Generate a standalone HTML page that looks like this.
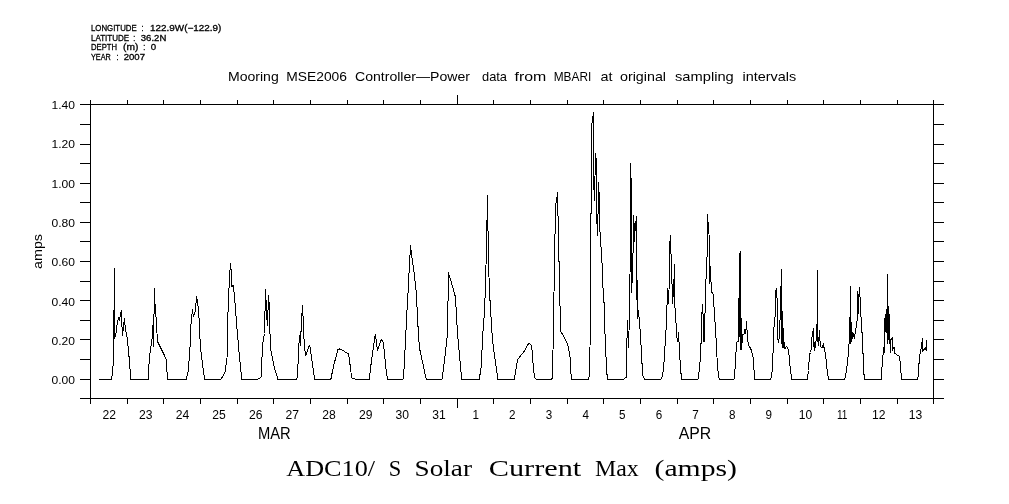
<!DOCTYPE html>
<html><head><meta charset="utf-8"><title>ADC10/ S Solar Current Max (amps)</title>
<style>html,body{margin:0;padding:0;background:#fff;}body{width:1009px;height:504px;overflow:hidden;font-family:"Liberation Sans",sans-serif;}svg{display:block}.txt{filter:grayscale(1);fill:#000}.s{font-family:"Liberation Sans",sans-serif}.r{font-family:"Liberation Serif",serif}</style>
</head><body>
<svg width="1009" height="504" viewBox="0 0 1009 504">
<rect width="1009" height="504" fill="#fff"/>
<g stroke="#000" stroke-width="1" fill="none" shape-rendering="crispEdges">
<path d="M80.0 104.5H944.0M80.0 398.5H944.0M90.5 104.0V399.0M933.5 104.0V399.0"/>
<path d="M80.0 379.5H90.5M933.5 379.5H944.0M80.0 359.5H90.5M933.5 359.5H944.0M80.0 339.5H90.5M933.5 339.5H944.0M80.0 320.5H90.5M933.5 320.5H944.0M80.0 300.5H90.5M933.5 300.5H944.0M80.0 281.5H90.5M933.5 281.5H944.0M80.0 261.5H90.5M933.5 261.5H944.0M80.0 241.5H90.5M933.5 241.5H944.0M80.0 222.5H90.5M933.5 222.5H944.0M80.0 202.5H90.5M933.5 202.5H944.0M80.0 183.5H90.5M933.5 183.5H944.0M80.0 163.5H90.5M933.5 163.5H944.0M80.0 144.5H90.5M933.5 144.5H944.0M80.0 124.5H90.5M933.5 124.5H944.0M80.0 104.5H90.5M933.5 104.5H944.0"/>
<path d="M90.5 100.0V104.5M90.5 398.5V404.0M127.5 100.0V104.5M127.5 398.5V404.0M163.5 100.0V104.5M163.5 398.5V404.0M200.5 100.0V104.5M200.5 398.5V404.0M237.5 100.0V104.5M237.5 398.5V404.0M273.5 100.0V104.5M273.5 398.5V404.0M310.5 100.0V104.5M310.5 398.5V404.0M347.5 100.0V104.5M347.5 398.5V404.0M383.5 100.0V104.5M383.5 398.5V404.0M420.5 100.0V104.5M420.5 398.5V404.0M457.5 95.0V104.5M457.5 398.5V408.0M493.5 100.0V104.5M493.5 398.5V404.0M530.5 100.0V104.5M530.5 398.5V404.0M567.5 100.0V104.5M567.5 398.5V404.0M603.5 100.0V104.5M603.5 398.5V404.0M640.5 100.0V104.5M640.5 398.5V404.0M677.5 100.0V104.5M677.5 398.5V404.0M713.5 100.0V104.5M713.5 398.5V404.0M750.5 100.0V104.5M750.5 398.5V404.0M787.5 100.0V104.5M787.5 398.5V404.0M823.5 100.0V104.5M823.5 398.5V404.0M860.5 100.0V104.5M860.5 398.5V404.0M897.5 100.0V104.5M897.5 398.5V404.0M933.5 100.0V104.5M933.5 398.5V404.0"/>
</g>
<g class="txt">
<text class="s" y="30.8" font-size="8.8" stroke="#000" stroke-width="0.3"><tspan x="91" textLength="45.7" lengthAdjust="spacingAndGlyphs">LONGITUDE</tspan> <tspan x="141.5" textLength="2.0" lengthAdjust="spacingAndGlyphs">:</tspan> <tspan x="150" textLength="71.3" lengthAdjust="spacingAndGlyphs">122.9W(&#8722;122.9)</tspan></text>
<text class="s" y="40.8" font-size="8.8" stroke="#000" stroke-width="0.3"><tspan x="91" textLength="38.2" lengthAdjust="spacingAndGlyphs">LATITUDE</tspan> <tspan x="133.2" textLength="2.0" lengthAdjust="spacingAndGlyphs">:</tspan> <tspan x="140.8" textLength="25.5" lengthAdjust="spacingAndGlyphs">36.2N</tspan></text>
<text class="s" y="50.2" font-size="8.8" stroke="#000" stroke-width="0.3"><tspan x="91" textLength="26" lengthAdjust="spacingAndGlyphs">DEPTH</tspan> <tspan x="123" textLength="15.3" lengthAdjust="spacingAndGlyphs">(m)</tspan> <tspan x="143.3" textLength="2.0" lengthAdjust="spacingAndGlyphs">:</tspan> <tspan x="150.8" textLength="5.4" lengthAdjust="spacingAndGlyphs">0</tspan></text>
<text class="s" y="60" font-size="8.8" stroke="#000" stroke-width="0.3"><tspan x="91" textLength="19.8" lengthAdjust="spacingAndGlyphs">YEAR</tspan> <tspan x="116.5" textLength="2.0" lengthAdjust="spacingAndGlyphs">:</tspan> <tspan x="123.7" textLength="21.3" lengthAdjust="spacingAndGlyphs">2007</tspan></text>
<text class="s" y="81" font-size="13.3"><tspan x="228" textLength="50.75" lengthAdjust="spacingAndGlyphs">Mooring</tspan> <tspan x="286.25" textLength="60.75" lengthAdjust="spacingAndGlyphs">MSE2006</tspan> <tspan x="355" textLength="115" lengthAdjust="spacingAndGlyphs">Controller&#8212;Power</tspan> <tspan x="482" textLength="25" lengthAdjust="spacingAndGlyphs">data</tspan> <tspan x="514.5" textLength="31.75" lengthAdjust="spacingAndGlyphs">from</tspan> <tspan x="553.75" textLength="37.5" lengthAdjust="spacingAndGlyphs">MBARI</tspan> <tspan x="600.5" textLength="12.0" lengthAdjust="spacingAndGlyphs">at</tspan> <tspan x="620" textLength="46" lengthAdjust="spacingAndGlyphs">original</tspan> <tspan x="675" textLength="58.75" lengthAdjust="spacingAndGlyphs">sampling</tspan> <tspan x="742.5" textLength="53.75" lengthAdjust="spacingAndGlyphs">intervals</tspan></text>
<text class="s" y="109.1" font-size="11.8"><tspan x="51.5" textLength="23.5" lengthAdjust="spacingAndGlyphs">1.40</tspan></text>
<text class="s" y="148.4" font-size="11.8"><tspan x="51.5" textLength="23.5" lengthAdjust="spacingAndGlyphs">1.20</tspan></text>
<text class="s" y="187.7" font-size="11.8"><tspan x="51.5" textLength="23.5" lengthAdjust="spacingAndGlyphs">1.00</tspan></text>
<text class="s" y="227.0" font-size="11.8"><tspan x="51.5" textLength="23.5" lengthAdjust="spacingAndGlyphs">0.80</tspan></text>
<text class="s" y="266.2" font-size="11.8"><tspan x="51.5" textLength="23.5" lengthAdjust="spacingAndGlyphs">0.60</tspan></text>
<text class="s" y="305.5" font-size="11.8"><tspan x="51.5" textLength="23.5" lengthAdjust="spacingAndGlyphs">0.40</tspan></text>
<text class="s" y="344.8" font-size="11.8"><tspan x="51.5" textLength="23.5" lengthAdjust="spacingAndGlyphs">0.20</tspan></text>
<text class="s" y="384.1" font-size="11.8"><tspan x="51.5" textLength="23.5" lengthAdjust="spacingAndGlyphs">0.00</tspan></text>
<text class="s" y="419.3" font-size="13.2"><tspan x="102.4" textLength="13.5" lengthAdjust="spacingAndGlyphs">22</tspan> <tspan x="139.0" textLength="13.5" lengthAdjust="spacingAndGlyphs">23</tspan> <tspan x="175.7" textLength="13.5" lengthAdjust="spacingAndGlyphs">24</tspan> <tspan x="212.3" textLength="13.5" lengthAdjust="spacingAndGlyphs">25</tspan> <tspan x="249.0" textLength="13.5" lengthAdjust="spacingAndGlyphs">26</tspan> <tspan x="285.6" textLength="13.5" lengthAdjust="spacingAndGlyphs">27</tspan> <tspan x="322.3" textLength="13.5" lengthAdjust="spacingAndGlyphs">28</tspan> <tspan x="358.9" textLength="13.5" lengthAdjust="spacingAndGlyphs">29</tspan> <tspan x="395.6" textLength="13.5" lengthAdjust="spacingAndGlyphs">30</tspan> <tspan x="432.2" textLength="13.5" lengthAdjust="spacingAndGlyphs">31</tspan> <tspan x="472.4" textLength="6.5" lengthAdjust="spacingAndGlyphs">1</tspan> <tspan x="509.0" textLength="6.5" lengthAdjust="spacingAndGlyphs">2</tspan> <tspan x="545.7" textLength="6.5" lengthAdjust="spacingAndGlyphs">3</tspan> <tspan x="582.4" textLength="6.5" lengthAdjust="spacingAndGlyphs">4</tspan> <tspan x="619.0" textLength="6.5" lengthAdjust="spacingAndGlyphs">5</tspan> <tspan x="655.7" textLength="6.5" lengthAdjust="spacingAndGlyphs">6</tspan> <tspan x="692.3" textLength="6.5" lengthAdjust="spacingAndGlyphs">7</tspan> <tspan x="729.0" textLength="6.5" lengthAdjust="spacingAndGlyphs">8</tspan> <tspan x="765.6" textLength="6.5" lengthAdjust="spacingAndGlyphs">9</tspan> <tspan x="798.8" textLength="13.5" lengthAdjust="spacingAndGlyphs">10</tspan> <tspan x="836.9" textLength="10.5" lengthAdjust="spacingAndGlyphs">11</tspan> <tspan x="872.1" textLength="13.5" lengthAdjust="spacingAndGlyphs">12</tspan> <tspan x="908.7" textLength="13.5" lengthAdjust="spacingAndGlyphs">13</tspan></text>
<text class="s" y="438.7" font-size="17.1"><tspan x="258" textLength="32.75" lengthAdjust="spacingAndGlyphs">MAR</tspan> <tspan x="678.75" textLength="32.5" lengthAdjust="spacingAndGlyphs">APR</tspan></text>
<text class="s" transform="translate(42 269) rotate(-90)" font-size="13.3" textLength="35" lengthAdjust="spacingAndGlyphs">amps</text>
<text class="r" y="475.5" font-size="23"><tspan x="286.25" textLength="88.75" lengthAdjust="spacingAndGlyphs">ADC10/</tspan> <tspan x="388.75" textLength="12.5" lengthAdjust="spacingAndGlyphs">S</tspan> <tspan x="414.5" textLength="57.5" lengthAdjust="spacingAndGlyphs">Solar</tspan> <tspan x="488.75" textLength="92.5" lengthAdjust="spacingAndGlyphs">Current</tspan> <tspan x="595" textLength="43.75" lengthAdjust="spacingAndGlyphs">Max</tspan> <tspan x="654.5" textLength="82.5" lengthAdjust="spacingAndGlyphs">(amps)</tspan></text>
</g>
<path d="M99.0 379.5 L111.5 379.5 L112.5 373.5 L113.0 366.5 L113.5 340.5 L113.6 310.5 L114.4 309.5 L114.5 268.5 L114.7 337.5 L115.5 336.5 L117.5 321.5 L118.4 318.5 L119.2 320.5 L121.3 310.5 L122.4 336.0 L124.4 318.5 L125.4 329.5 L126.8 335.5 L128.7 352.5 L130.8 379.5 L148.3 379.5 L149.3 357.5 L150.8 347.5 L152.3 336.5 L153.5 317.5 L153.4 346.5 L154.5 288.5 L155.4 315.5 L156.0 316.5 L157.5 341.5 L163.3 353.0 L166.3 359.5 L167.5 379.5 L186.3 379.5 L188.3 370.5 L190.0 347.2 L190.8 325.5 L192.0 314.5 L192.5 309.5 L193.3 317.2 L195.0 312.2 L196.7 296.5 L198.0 305.5 L199.2 320.5 L199.6 333.5 L200.8 350.5 L203.3 370.5 L204.7 379.5 L220.8 379.5 L225.0 372.2 L227.0 358.8 L227.7 317.2 L228.7 300.5 L229.2 281.5 L230.5 262.7 L231.3 273.2 L232.0 286.5 L233.3 285.5 L234.7 298.5 L236.7 325.5 L239.2 353.8 L241.7 379.5 L257.5 379.5 L261.2 377.0 L262.5 345.5 L264.5 333.5 L265.0 311.5 L265.6 289.5 L266.5 312.5 L267.4 325.5 L268.6 295.5 L269.6 310.5 L270.0 333.5 L270.9 350.5 L274.2 367.0 L278.0 379.5 L296.3 379.5 L297.5 377.2 L298.7 347.2 L299.7 335.5 L300.3 346.3 L301.7 317.2 L302.7 305.5 L303.3 325.5 L304.2 342.2 L305.5 356.3 L309.7 344.7 L311.7 358.8 L314.7 379.5 L330.8 379.5 L333.3 367.2 L337.8 349.7 L340.0 348.8 L348.3 353.8 L349.2 358.0 L351.7 378.0 L356.7 379.5 L369.2 379.5 L371.7 358.8 L375.3 333.9 L377.5 350.5 L381.3 339.7 L383.3 342.2 L385.8 367.2 L387.5 379.5 L403.0 379.5 L404.2 367.2 L405.8 333.8 L407.0 310.5 L408.0 293.5 L409.0 273.5 L410.0 255.5 L410.5 245.5 L411.7 255.5 L414.2 273.8 L416.3 292.5 L417.5 317.2 L418.7 338.8 L420.0 350.5 L426.3 379.5 L442.0 379.5 L443.7 367.2 L447.5 333.8 L448.0 302.5 L448.4 272.5 L454.2 292.2 L455.5 297.5 L457.5 333.8 L461.7 379.5 L479.2 379.5 L481.2 367.2 L482.8 333.8 L484.5 312.2 L485.0 298.5 L486.0 265.5 L487.0 220.5 L487.5 195.5 L488.0 230.5 L489.0 277.2 L490.0 300.5 L490.5 303.0 L491.3 325.5 L493.3 347.2 L498.0 379.5 L514.2 379.5 L515.8 370.5 L517.5 359.7 L524.2 351.3 L527.5 344.7 L529.2 343.5 L531.7 345.5 L533.3 367.2 L534.7 378.0 L536.7 379.5 L550.8 379.5 L552.5 378.0 L553.0 350.5 L554.0 292.5 L555.0 234.5 L556.0 203.0 L557.0 197.2 L557.5 192.5 L558.0 215.5 L558.9 261.3 L559.5 262.0 L560.0 305.5 L560.4 330.5 L566.3 341.3 L568.3 347.2 L570.3 358.8 L571.3 379.5 L588.0 379.5 L589.2 376.5 L590.0 348.5 L591.0 214.0 L592.0 123.5 L593.0 116.5 L593.5 112.5 L594.0 189.5 L594.5 200.5 L595.0 176.5 L595.5 153.5 L596.0 156.5 L597.0 223.5 L597.3 235.5 L598.0 214.5 L598.5 182.5 L599.0 191.1 L600.0 231.5 L601.0 247.1 L602.0 262.5 L603.0 287.5 L604.0 302.5 L604.7 303.5 L605.0 333.5 L606.7 372.5 L607.8 379.5 L623.3 379.5 L626.2 377.2 L627.0 338.5 L627.5 320.5 L628.0 335.5 L628.5 347.5 L629.0 331.5 L630.0 277.5 L630.5 163.5 L631.0 175.5 L631.7 292.5 L633.0 254.0 L633.5 215.5 L634.0 222.5 L634.5 241.5 L635.0 231.5 L636.0 221.5 L636.3 216.5 L636.8 299.5 L637.3 280.5 L637.9 318.5 L638.5 310.0 L639.2 319.5 L640.0 328.5 L640.5 335.5 L641.7 358.8 L642.8 375.5 L644.7 379.5 L660.8 379.5 L662.5 376.3 L663.7 367.2 L665.8 333.8 L666.5 320.5 L667.0 305.5 L667.4 288.5 L668.1 303.5 L669.0 290.5 L670.0 241.5 L670.5 235.5 L671.0 254.0 L672.0 283.5 L672.5 303.5 L673.0 297.5 L674.0 280.0 L674.4 264.5 L675.0 307.5 L676.0 322.5 L677.0 337.5 L677.5 342.2 L678.7 332.2 L679.2 347.2 L680.8 372.2 L682.0 379.5 L698.0 379.5 L699.7 367.2 L700.8 350.5 L701.4 330.5 L702.0 312.5 L702.7 304.0 L703.9 341.5 L704.1 341.5 L705.0 313.5 L706.0 279.0 L707.0 259.0 L707.4 214.5 L708.0 221.5 L709.0 233.5 L709.6 283.5 L710.3 266.5 L711.0 281.5 L712.0 292.5 L713.0 293.5 L714.0 306.5 L715.8 333.8 L717.5 367.2 L719.2 379.5 L734.0 379.5 L735.2 367.5 L736.5 342.5 L737.7 341.5 L738.4 341.5 L738.9 298.5 L739.2 336.5 L739.6 253.5 L740.3 252.5 L740.6 349.5 L741.3 318.5 L741.7 349.5 L742.5 334.5 L744.0 334.5 L745.0 329.5 L745.7 333.5 L746.5 321.5 L747.5 337.5 L748.5 345.5 L750.0 347.5 L751.5 350.5 L753.0 356.5 L754.7 379.5 L770.7 379.5 L772.0 372.5 L773.0 353.5 L774.0 327.5 L775.0 317.5 L775.9 290.5 L776.4 289.5 L777.0 297.5 L777.9 339.5 L778.5 342.5 L779.0 339.5 L780.0 320.5 L781.0 286.5 L781.5 269.5 L781.9 343.5 L782.4 311.5 L782.9 347.5 L783.4 328.5 L783.9 347.5 L784.5 342.5 L785.0 348.5 L786.5 346.5 L787.5 347.5 L788.0 348.5 L789.0 354.5 L790.2 367.5 L791.8 379.5 L807.3 379.5 L808.5 370.5 L809.5 354.5 L810.5 352.5 L811.0 350.5 L812.0 337.5 L813.0 331.0 L813.4 328.5 L814.0 346.5 L814.4 350.5 L815.0 342.5 L815.6 347.5 L816.0 341.5 L817.0 326.5 L817.3 270.5 L817.9 341.5 L818.5 345.5 L819.4 330.5 L820.0 340.5 L820.5 346.5 L822.0 347.5 L823.4 343.5 L824.0 347.5 L825.0 351.5 L826.0 358.5 L826.8 367.5 L828.5 379.5 L844.1 379.5 L845.4 377.2 L846.6 369.5 L847.9 358.5 L849.0 344.5 L849.9 318.5 L850.1 316.5 L850.3 286.5 L850.8 343.5 L851.1 322.5 L851.6 341.5 L852.9 332.5 L853.5 333.5 L854.4 339.1 L855.4 331.0 L857.0 322.5 L857.4 291.5 L858.0 293.5 L858.4 313.5 L859.3 287.5 L860.0 296.5 L860.5 314.5 L861.4 318.5 L861.6 332.2 L862.5 332.5 L862.9 350.5 L863.7 372.2 L864.7 379.5 L881.2 379.5 L881.6 372.5 L882.9 356.0 L883.7 347.5 L884.3 352.5 L884.6 323.5 L885.3 314.5 L885.7 331.5 L886.3 318.5 L886.7 332.5 L887.5 274.5 L887.8 343.5 L888.3 306.5 L888.7 339.5 L889.3 314.5 L889.7 339.5 L890.6 352.5 L891.0 339.5 L892.5 337.5 L892.9 349.5 L894.1 347.5 L894.7 353.5 L896.6 354.5 L899.5 356.5 L900.4 364.5 L901.2 376.0 L901.6 379.5 L917.2 379.5 L918.1 377.2 L918.7 368.5 L919.5 356.0 L921.0 349.5 L921.6 344.5 L922.5 338.5 L922.9 351.5 L924.1 348.5 L925.0 349.5 L925.7 347.2 L926.3 350.5 L926.7 340.5" stroke="#000" stroke-width="1" fill="none" shape-rendering="crispEdges" stroke-linejoin="miter"/>
</svg>
</body></html>
